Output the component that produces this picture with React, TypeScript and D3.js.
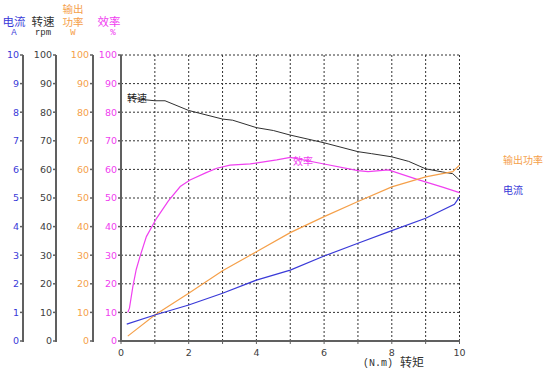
import React from "react";
import * as d3 from "d3";

const torque = [0.2, 0.5, 1.0, 1.3, 2.0, 3.0, 3.3, 4.0, 4.5, 5.0, 6.0, 7.0, 7.4, 8.0, 8.5, 9.0, 9.5, 9.8, 10.0];
const speed = [85.5, 84.6, 84.0, 84.0, 80.6, 77.6, 77.2, 74.6, 73.6, 72.0, 69.3, 66.2, 65.5, 64.4, 62.8, 60.2, 59.1, 58.5, 56.3];
const effX = [0.2, 0.25, 0.35, 0.45, 0.56, 0.75, 1.05, 1.4, 1.75, 2.04, 2.5, 2.83, 3.22, 3.82, 4.6, 5.0, 6.0, 7.0, 7.3, 7.9, 8.75, 9.5, 10.0];
const efficiency = [10.0, 11.5, 19.0, 25.0, 29.5, 36.5, 42.9, 49.0, 54.0, 56.3, 58.8, 60.4, 61.5, 61.9, 63.3, 64.2, 61.9, 59.6, 59.2, 59.8, 56.5, 53.8, 51.9];
const powerX = [0.2, 1.0, 2.0, 3.0, 4.0, 5.0, 6.0, 7.0, 8.0, 9.0, 9.8, 10.0];
const power = [1.7, 9.1, 16.7, 24.6, 31.2, 37.9, 43.5, 48.8, 53.9, 57.4, 59.2, 61.5];
const currentX = [0.17, 1.0, 2.0, 3.0, 4.0, 5.0, 6.0, 7.0, 8.0, 9.0, 9.85, 10.0];
const current = [0.59, 0.91, 1.26, 1.67, 2.13, 2.48, 2.97, 3.42, 3.86, 4.29, 4.78, 5.04];

const pctTicks = [0, 10, 20, 30, 40, 50, 60, 70, 80, 90, 100];
const ampTicks = [0, 1, 2, 3, 4, 5, 6, 7, 8, 9, 10];
const xTicks = [0, 1, 2, 3, 4, 5, 6, 7, 8, 9, 10];
const xLabels = [0, 2, 4, 6, 8, 10];

const BLUE = "#3a3ad8";
const ORANGE = "#f5a04a";
const MAGENTA = "#f040f0";
const BLACK = "#303030";
const AXIS = "#606060";
const CJK = "'Noto Sans CJK SC', sans-serif";
const NUM = "'DejaVu Sans', sans-serif";
const MONO = "'Liberation Mono', monospace";

export default function App() {
  const x = d3.scaleLinear().domain([0, 10]).range([121, 459.5]);
  const y = d3.scaleLinear().domain([0, 100]).range([341, 55]);
  const yA = d3.scaleLinear().domain([0, 10]).range([341, 55]);

  const mk = (xs: number[], ys: number[], sy: d3.ScaleLinear<number, number>) =>
    d3.line<number>().x((_, i) => x(xs[i])).y((v) => sy(v))(ys) as string;

  const axes = [
    { ax: 23, ticks: ampTicks, color: BLUE, sc: yA },
    { ax: 56, ticks: pctTicks, color: "#404040", sc: y },
    { ax: 93, ticks: pctTicks, color: ORANGE, sc: y },
    { ax: 121, ticks: pctTicks, color: MAGENTA, sc: y },
  ];

  return (
    <svg width={553} height={378} style={{ position: "absolute", left: 0, top: 0, background: "#fff" }}>
      {/* grid */}
      {xTicks.slice(1).map((t) => (
        <line key={"gx" + t} x1={x(t)} x2={x(t)} y1={55} y2={341} stroke="#333" strokeWidth={1} strokeDasharray="2,2" />
      ))}
      {pctTicks.slice(1).map((t) => (
        <line key={"gy" + t} x1={121} x2={459.5} y1={y(t)} y2={y(t)} stroke="#333" strokeWidth={1} strokeDasharray="2,2" />
      ))}
      {/* vertical axes */}
      {axes.map((a, i) => (
        <g key={"ax" + i}>
          <line x1={a.ax} x2={a.ax} y1={55} y2={342} stroke={AXIS} strokeWidth={2} />
          {a.ticks.map((t) => (
            <g key={t}>
              <line x1={a.ax - 3} x2={a.ax} y1={a.sc(t)} y2={a.sc(t)} stroke={AXIS} strokeWidth={1.5} />
              <text x={a.ax - 4} y={a.sc(t)} dy="0.35em" textAnchor="end" fontSize={9.5} fontFamily={NUM} fill={a.color}>
                {t}
              </text>
            </g>
          ))}
        </g>
      ))}
      {/* bottom axis */}
      <line x1={120} x2={460} y1={341} y2={341} stroke={AXIS} strokeWidth={2} />
      {xTicks.map((t) => (
        <line key={"xt" + t} x1={x(t)} x2={x(t)} y1={341} y2={344} stroke={AXIS} strokeWidth={1} />
      ))}
      {xLabels.map((t) => (
        <text key={"xl" + t} x={x(t)} y={356} textAnchor="middle" fontSize={9.5} fontFamily={NUM} fill="#404040">
          {t}
        </text>
      ))}
      <text x={363} y={366} fontSize={10} fontFamily={MONO} fill="#303030">(N.m)</text>
      <text x={400} y={367} fontSize={12} fontFamily={CJK} fill="#303030">转矩</text>

      {/* headers */}
      <text x={14} y={26} textAnchor="middle" fontSize={11.5} fontFamily={CJK} fill={BLUE}>电流</text>
      <text x={14} y={35} textAnchor="middle" fontSize={9} fontFamily={MONO} fill={BLUE}>A</text>
      <text x={43} y={26} textAnchor="middle" fontSize={11.5} fontFamily={CJK} fill="#303030">转速</text>
      <text x={43} y={35} textAnchor="middle" fontSize={9} fontFamily={MONO} fill="#303030">rpm</text>
      <text textAnchor="middle" fontSize={10.5} fontFamily={CJK} fill={ORANGE}>
        <tspan x={73} y={12.5}>输出</tspan>
        <tspan x={73} y={25.5}>功率</tspan>
      </text>
      <text x={73} y={35} textAnchor="middle" fontSize={9} fontFamily={MONO} fill={ORANGE}>W</text>
      <text x={109} y={26} textAnchor="middle" fontSize={11.5} fontFamily={CJK} fill={MAGENTA}>效率</text>
      <text x={113} y={35} textAnchor="middle" fontSize={9} fontFamily={MONO} fill={MAGENTA}>%</text>

      {/* series */}
      <path d={mk(torque, speed, y)} fill="none" stroke={BLACK} strokeWidth={1} />
      <path d={mk(effX, efficiency, y)} fill="none" stroke={MAGENTA} strokeWidth={1.2} />
      <path d={mk(powerX, power, y)} fill="none" stroke={ORANGE} strokeWidth={1.2} />
      <path d={mk(currentX, current, yA)} fill="none" stroke={BLUE} strokeWidth={1.2} />

      {/* series labels */}
      <text x={127} y={102} fontSize={10} fontFamily={CJK} fill="#202020">转速</text>
      <text x={293} y={165} fontSize={10} fontFamily={CJK} fill={MAGENTA}>效率</text>
      <text x={503} y={164} fontSize={10} fontFamily={CJK} fill={ORANGE}>输出功率</text>
      <text x={503} y={194} fontSize={10} fontFamily={CJK} fill={BLUE}>电流</text>
    </svg>
  );
}
